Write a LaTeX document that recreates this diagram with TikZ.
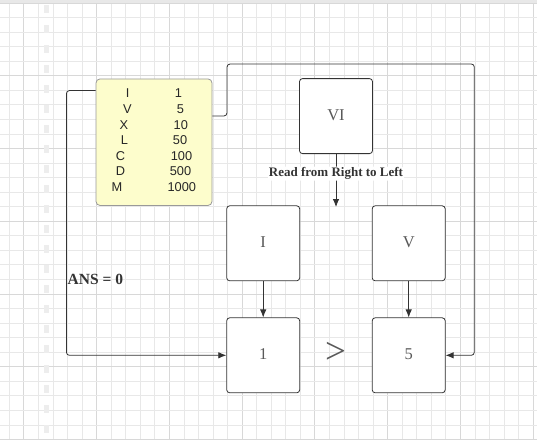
\documentclass[tikz,border=0pt]{standalone}
\usepackage{fontspec}
\setmainfont{Liberation Serif}
\newfontfamily\tablefont{Liberation Sans}
\usetikzlibrary{arrows.meta,positioning,calc}
\definecolor{inkgray}{HTML}{333333}
\definecolor{boxtext}{HTML}{595959}
\definecolor{notepad}{HTML}{FDFDCC}
\definecolor{gridminor}{HTML}{E8E8E8}
\definecolor{gridmajor}{HTML}{D8D8D8}
\definecolor{marginmark}{HTML}{EDEDED}

\begin{document}
\begin{tikzpicture}[x=1pt, y=-1pt,
        romanbox/.style={rectangle, rounded corners=3pt, draw=inkgray, line width=0.8pt, fill=white, minimum width=73pt, minimum height=75pt, text=boxtext, font=\fontsize{16.5}{16.5}\selectfont},
        tablebox/.style={rectangle, rounded corners=4pt, draw=black!40, line width=0.8pt, fill=notepad, minimum width=116pt, minimum height=126.5pt},
        tabletext/.style={inner sep=0pt, text=black!85, font=\tablefont\fontsize{12.8}{12.8}\selectfont},
        conn/.style={draw=inkgray, line width=0.8pt, rounded corners=3pt, -{Latex[length=8pt,width=6.5pt]}},
        boldlabel/.style={text=inkgray, font=\bfseries\fontsize{13}{13}\selectfont}]
    \useasboundingbox (0,0) rectangle (537,440);
    \fill[white] (0,0) rectangle (537,440);
    % grid paper
    \foreach \k in {0,...,36} {
        \pgfmathtruncatemacro{\m}{mod(\k,5)}
        \ifnum\m=1 \def\gc{gridmajor}\else\def\gc{gridminor}\fi
        \draw[\gc, line width=0.8pt] (9.3+14.55*\k, 0) -- (9.3+14.55*\k, 440);
    }
    \foreach \k in {-1,...,29} {
        \pgfmathtruncatemacro{\m}{mod(\k+5,5)}
        \ifnum\m=4 \def\gc{gridmajor}\else\def\gc{gridminor}\fi
        \draw[\gc, line width=0.8pt] (0, 17.5+14.55*\k) -- (537, 17.5+14.55*\k);
    }
    \fill[gridminor] (0,0) rectangle (537,3);
    \foreach \k in {0,...,21}
        \fill[marginmark] (44, 5+20*\k) rectangle (49, 13+20*\k);

    % boxes
    \node [tablebox] at (154, 142.2) (table) {};
    \node [romanbox] at (336, 116.1) (six)  {\raisebox{2pt}{VI}};
    \node [romanbox] at (263.2, 243.3) (ione) {\raisebox{2pt}{I}};
    \node [romanbox] at (408.7, 243.3) (vfive) {\raisebox{2pt}{V}};
    \node [romanbox] at (263.2, 355.3) (one) {\raisebox{2pt}{1}};
    \node [romanbox] at (408.7, 355.3) (five) {\raisebox{2pt}{5}};

    \foreach \sym/\symx/\val/\valx [count=\r from 0] in {I/127.7/1/178.4, V/127.4/5/180.5, X/124/10/180.8, L/124.5/50/180, C/120.5/100/181.5, D/120.5/500/180.5, M/117/1000/181.8} {
        \node [tabletext] at (\symx, 93.5+15.6*\r) (sym\r) {\sym};
        \node [tabletext] at (\valx, 93.5+15.6*\r) (val\r) {\val};
    }

    \node [text=boxtext, font=\fontsize{37}{37}\selectfont, inner sep=0pt] at (335.6, 352.7) (gt) {>};
    \node [boldlabel, font=\bfseries\fontsize{15.5}{15.5}\selectfont, anchor=west, inner sep=0pt] at (67.5, 279) (ans) {ANS = 0};

    \coordinate (readend) at (336, 207);
    \coordinate (jog) at (227, 64);
    \coordinate (rtop) at (474.3, 64);

    \draw [conn] (six) -- node [boldlabel, pos=0.37, fill=white, inner sep=1pt] (readlabel) {Read from Right to Left} (readend);
    \draw [conn] (ione) -- (one);
    \draw [conn] (vfive) -- (five);
    \draw [conn] ([yshift=-12pt]table.north west) -- ++(-29.2,0) |- (one.west);
    \draw [conn] ([yshift=-37.4pt]table.north east) -| (jog) -- (rtop) |- (five.east);
\end{tikzpicture}
\end{document}
